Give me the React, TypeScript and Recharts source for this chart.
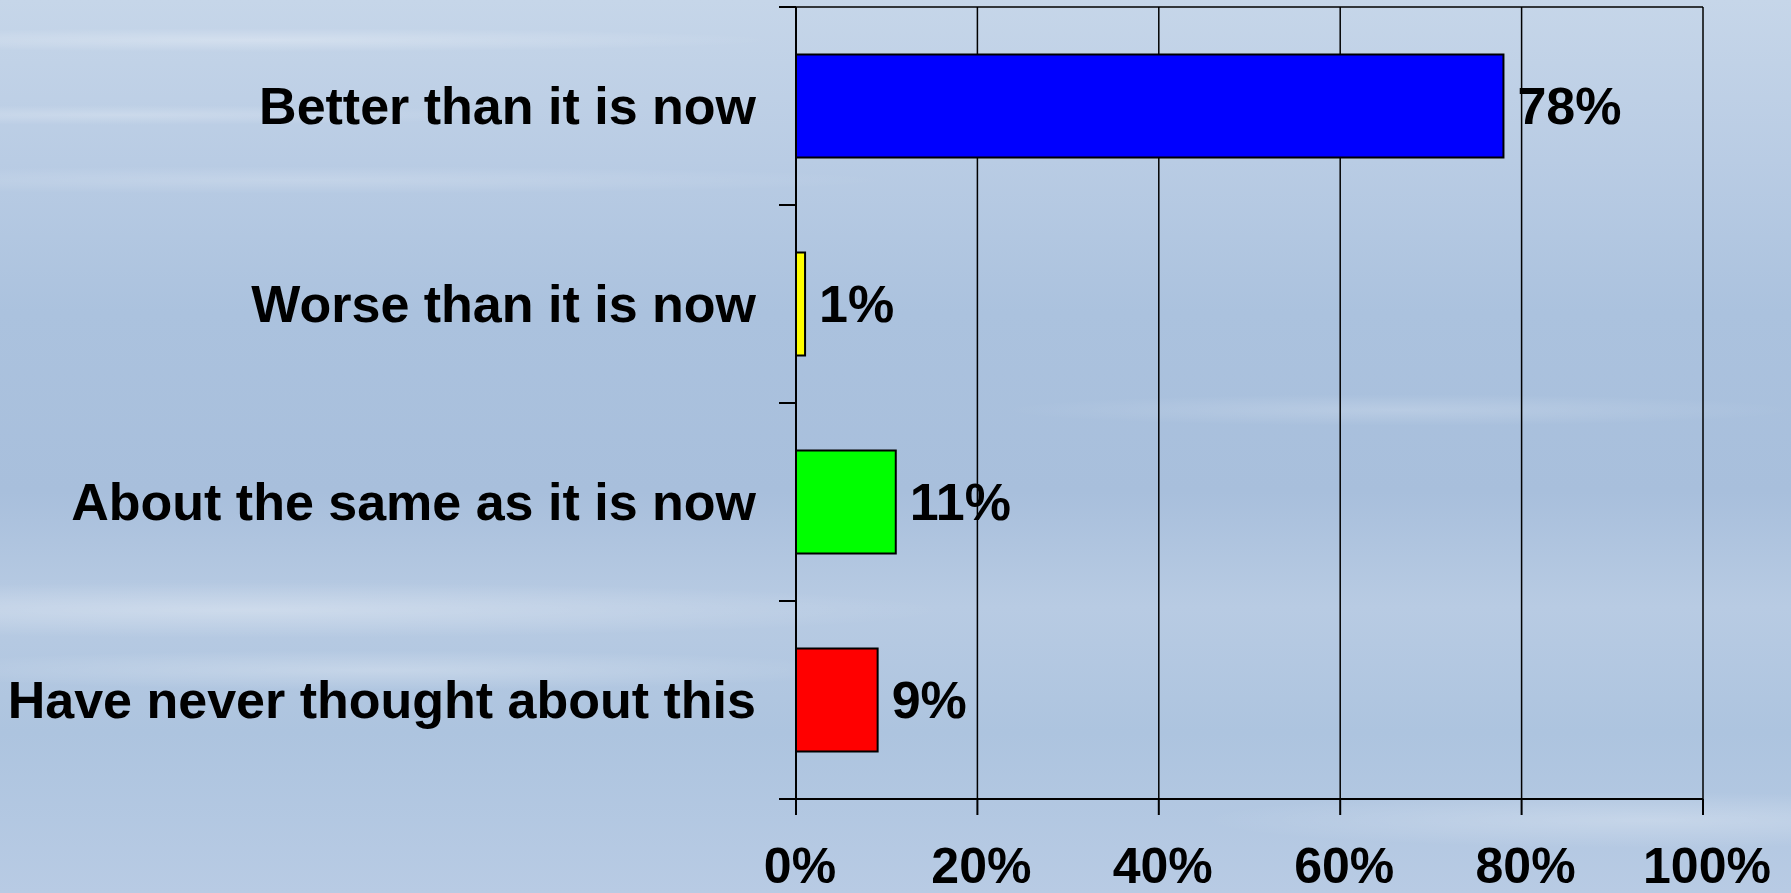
import { BarChart, Bar, XAxis, YAxis, CartesianGrid, Cell, LabelList } from "recharts";

const categories = [
  "Better than it is now",
  "Worse than it is now",
  "About the same as it is now",
  "Have never thought about this",
];
const percents = [78, 1, 11, 9];
const barColors = ["#0000FF", "#FFFF00", "#00FF00", "#FF0000"];
const xTicks = [0, 20, 40, 60, 80, 100];

const W = 1791;
const H = 893;
const MARGIN = { top: 7, right: 88, left: 0, bottom: 0 };
const Y_AXIS_W = 796;
const X_AXIS_H = 94;
const TICK_SIZE = 17;
const TICK_MARGIN = 23;
const BAND = (H - MARGIN.top - MARGIN.bottom - X_AXIS_H) / categories.length;
const FONT = '"Liberation Sans", Arial, sans-serif';

const data = categories.map((name, i) => ({ name, value: percents[i] }));

// Excel-style category axis: tick marks sit on the band edges, not the centres
function CategoryTick({ x, y, payload, index }: any) {
  const x0 = x + TICK_MARGIN;
  const x1 = x0 + TICK_SIZE;
  const half = BAND / 2;
  return (
    <g>
      <line x1={x0} x2={x1} y1={y - half} y2={y - half} stroke="#000" strokeWidth={2} />
      {index === categories.length - 1 && (
        <line x1={x0} x2={x1} y1={y + half} y2={y + half} stroke="#000" strokeWidth={2} />
      )}
      <text
        x={x}
        y={y}
        textAnchor="end"
        dominantBaseline="central"
        fill="#000"
        fontSize={52}
        fontWeight={700}
        fontFamily={FONT}
      >
        {payload.value}
      </text>
    </g>
  );
}

const background = [
  "radial-gradient(ellipse 520px 12px at 260px 40px, rgba(255,255,255,0.28), rgba(255,255,255,0))",
  "radial-gradient(ellipse 420px 10px at 120px 115px, rgba(255,255,255,0.22), rgba(255,255,255,0))",
  "radial-gradient(ellipse 600px 14px at 300px 180px, rgba(255,255,255,0.18), rgba(255,255,255,0))",
  "radial-gradient(ellipse 700px 28px at 250px 610px, rgba(255,255,255,0.3), rgba(255,255,255,0))",
  "radial-gradient(ellipse 500px 20px at 380px 670px, rgba(255,255,255,0.25), rgba(255,255,255,0))",
  "radial-gradient(ellipse 400px 16px at 1400px 410px, rgba(255,255,255,0.18), rgba(255,255,255,0))",
  "radial-gradient(ellipse 450px 28px at 1650px 820px, rgba(255,255,255,0.25), rgba(255,255,255,0))",
  "linear-gradient(180deg, #c6d6e9 0%, #b9cce4 18%, #abc2de 35%, #a8bfdc 55%, #b8cbe3 68%, #adc4df 82%, #b8cbe4 100%)",
].join(", ");

export default function App() {
  return (
    <div style={{ position: "absolute", left: 0, top: 0, width: W, height: H, background }}>
      <BarChart
        width={W}
        height={H}
        data={data}
        layout="vertical"
        margin={MARGIN}
        barCategoryGap="24%"
      >
        <CartesianGrid
          horizontalPoints={[MARGIN.top]}
          stroke="#000"
          strokeWidth={1.5}
        />
        <XAxis
          type="number"
          domain={[0, 100]}
          ticks={xTicks}
          tickFormatter={(v: number) => `${v}%`}
          height={X_AXIS_H}
          tickSize={16}
          tickMargin={32}
          interval={0}
          axisLine={{ stroke: "#000", strokeWidth: 2 }}
          tickLine={{ stroke: "#000", strokeWidth: 2 }}
          tick={{ fill: "#000", fontSize: 50, fontWeight: 700, fontFamily: FONT, dx: 4 }}
        />
        <YAxis
          type="category"
          dataKey="name"
          width={Y_AXIS_W}
          tickSize={TICK_SIZE}
          tickMargin={TICK_MARGIN}
          tickLine={false}
          interval={0}
          axisLine={{ stroke: "#000", strokeWidth: 2 }}
          tick={<CategoryTick />}
        />
        <Bar dataKey="value" stroke="#000" strokeWidth={2} isAnimationActive={false}>
          {data.map((d, i) => (
            <Cell key={d.name} fill={barColors[i]} />
          ))}
          <LabelList
            dataKey="value"
            position="right"
            offset={14}
            formatter={(v: any) => `${v}%`}
            fill="#000"
            fontSize={52}
            fontWeight={700}
            fontFamily={FONT}
          />
        </Bar>
      </BarChart>
    </div>
  );
}
